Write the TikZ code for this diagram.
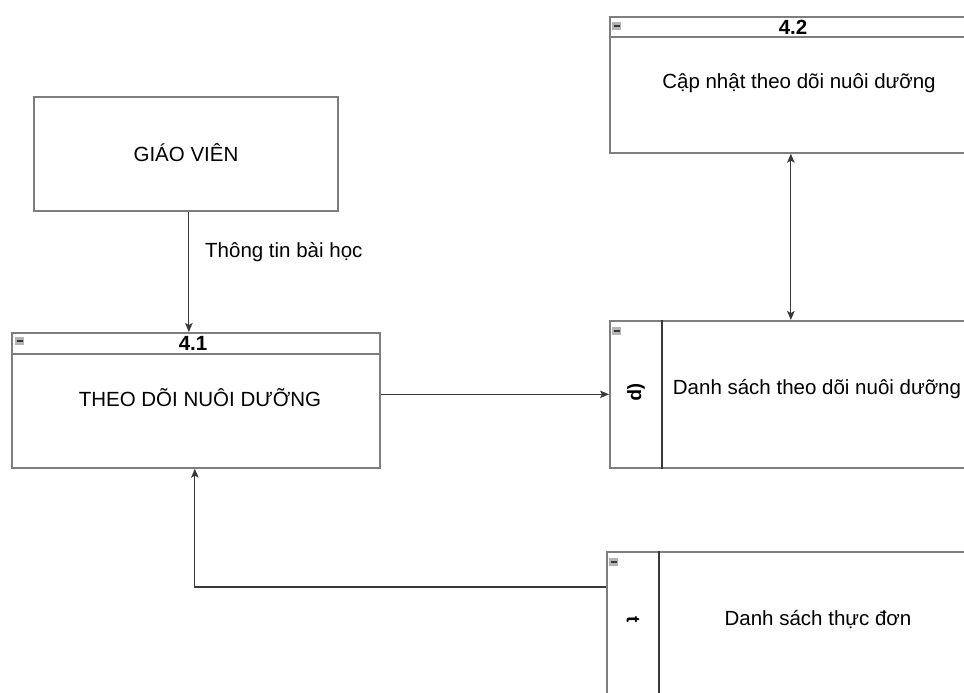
\documentclass[tikz,border=0pt]{standalone}
\usepackage{fontspec}
\setmainfont{Liberation Sans}
\usetikzlibrary{arrows.meta}
\definecolor{boxgray}{HTML}{7E7E7E}
\definecolor{linegray}{HTML}{383838}
\definecolor{icongray}{HTML}{B4B4B4}
\begin{document}
\begin{tikzpicture}[x=1pt,y=-1pt,
  boxshape/.style={draw=boxgray, line width=1.7pt, rectangle, inner sep=0pt},
  txt/.style={font=\fontsize{20.5}{24}\selectfont, text=black, inner sep=0pt},
  idtxt/.style={font=\fontsize{20.5}{24}\selectfont\bfseries, text=black, inner sep=0pt},
  glyph/.style={font=\fontsize{19}{20}\selectfont\bfseries, text=black, inner sep=0pt},
  conn/.style={draw=linegray, line width=1.2pt},
  tip/.style={-{Stealth[length=9pt,width=7.5pt,inset=2pt]}},
  tips/.style={{Stealth[length=9pt,width=7.5pt,inset=2pt]}-{Stealth[length=9pt,width=7.5pt,inset=2pt]}},
  iconbox/.style={fill=icongray, draw=none, minimum width=9pt, minimum height=8pt, inner sep=0pt, anchor=north west}
]
\useasboundingbox (0,0) rectangle (964,693);
\clip (0,0) rectangle (964,693);

% External entity
\node[boxshape, minimum width=304pt, minimum height=114pt, anchor=north west] (gv) at (33,96) {};
\node[txt] (gvt) at (186,153) {GIÁO VIÊN};

% Process 4.1
\node[boxshape, minimum width=368pt, minimum height=135pt, anchor=north west] (p41) at (11,332) {};
\draw[draw=boxgray, line width=1.7pt] ([yshift=-22pt]p41.north west) -- ([yshift=-22pt]p41.north east);
\node[idtxt] (p41id) at (193,343) {4.1};
\node[txt] (p41t) at (200,398) {THEO DÕI NUÔI DƯỠNG};
\node[iconbox] (p41i) at (15,337) {};
\draw[linegray, line width=1.3pt] ([yshift=-4pt,xshift=1.5pt]p41i.north west) -- ([yshift=-4pt,xshift=-1.5pt]p41i.north east);

% Process 4.2
\node[boxshape, minimum width=381pt, minimum height=136pt, anchor=north west] (p42) at (609,16) {};
\draw[draw=boxgray, line width=1.7pt] ([yshift=-21pt]p42.north west) -- ([yshift=-21pt]p42.north east);
\node[idtxt] (p42id) at (793,27) {4.2};
\node[txt] (p42t) at (799,83) {Cập nhật theo dõi nuôi dưỡng};
\node[iconbox] (p42i) at (612,22) {};
\draw[linegray, line width=1.3pt] ([yshift=-4pt,xshift=1.5pt]p42i.north west) -- ([yshift=-4pt,xshift=-1.5pt]p42i.north east);

% Data store 1
\node[boxshape, minimum width=371pt, minimum height=147pt, anchor=north west] (s1) at (609,320) {};
\draw[draw=linegray, line width=1.2pt] ([xshift=53pt]s1.north west) -- ([xshift=53pt]s1.south west);
\node[iconbox] (s1i) at (612,327) {};
\draw[linegray, line width=1.3pt] ([yshift=-4pt,xshift=1.5pt]s1i.north west) -- ([yshift=-4pt,xshift=-1.5pt]s1i.north east);
\node[glyph, rotate=-90] (s1g) at (636,392) {(p};
\node[txt] (s1t) at (817,389) {Danh sách theo dõi nuôi dưỡng};

% Data store 2
\node[boxshape, minimum width=374pt, minimum height=160pt, anchor=north west] (s2) at (606,551) {};
\draw[draw=linegray, line width=1.2pt] ([xshift=53pt]s2.north west) -- ([xshift=53pt]s2.south west);
\node[iconbox] (s2i) at (609,558) {};
\draw[linegray, line width=1.3pt] ([yshift=-4pt,xshift=1.5pt]s2i.north west) -- ([yshift=-4pt,xshift=-1.5pt]s2i.north east);
\node[glyph, rotate=-90] (s2g) at (633,620) {t};
\node[txt] (s2t) at (818,620) {Danh sách thực đơn};

% Connectors
\draw[conn, tip] ([xshift=3pt]gv.south) -- ([xshift=3pt]gv.south |- p41.north);
\node[txt, anchor=west] (lbl) at (205,252) {Thông tin bài học};

\draw[conn, tip] (p41.east |- s1.west) -- (s1.west);

\draw[conn, tips] ([xshift=-9.5pt]p42.south) -- ([xshift=-9.5pt]p42.south |- s1.north);

\draw[conn, tip] ([yshift=-36pt]s2.north west) -| ([xshift=-1pt]p41.south);
\end{tikzpicture}
\end{document}
